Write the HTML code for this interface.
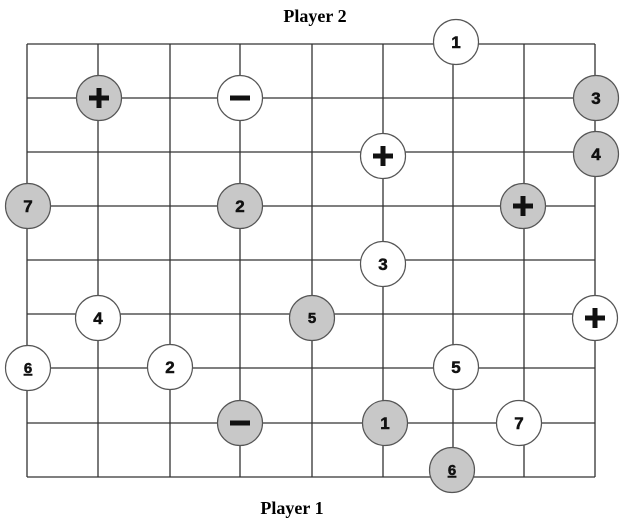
<!DOCTYPE html>
<html><head><style>body{margin:0;background:#fff}</style></head><body>
<svg width="626" height="522" xmlns="http://www.w3.org/2000/svg" font-family="Liberation Sans, sans-serif">
<rect width="626" height="522" fill="#fff"/>
<g stroke="#333" stroke-width="1.3">
<line x1="27" y1="44" x2="27" y2="477"/><line x1="98" y1="44" x2="98" y2="477"/><line x1="170" y1="44" x2="170" y2="477"/><line x1="240" y1="44" x2="240" y2="477"/><line x1="312" y1="44" x2="312" y2="477"/><line x1="383" y1="44" x2="383" y2="477"/><line x1="453" y1="44" x2="453" y2="477"/><line x1="524" y1="44" x2="524" y2="477"/><line x1="595" y1="44" x2="595" y2="477"/>
<line x1="27" y1="44" x2="595" y2="44"/><line x1="27" y1="98" x2="595" y2="98"/><line x1="27" y1="152" x2="595" y2="152"/><line x1="27" y1="206" x2="595" y2="206"/><line x1="27" y1="260" x2="595" y2="260"/><line x1="27" y1="314" x2="595" y2="314"/><line x1="27" y1="368" x2="595" y2="368"/><line x1="27" y1="423" x2="595" y2="423"/><line x1="27" y1="477" x2="595" y2="477"/>
</g>
<g font-family="Liberation Serif, serif" font-weight="bold" font-size="18" text-anchor="middle">
<text x="315" y="22">Player  2</text><text x="292" y="514">Player  1</text></g>
<g stroke="#555" stroke-width="1.2">
<circle cx="99" cy="98" r="22.5" fill="#c8c8c8"/><circle cx="240" cy="98" r="22.5" fill="#fff"/>
<circle cx="456" cy="42" r="22.5" fill="#fff"/><circle cx="596" cy="98" r="22.5" fill="#c8c8c8"/>
<circle cx="596" cy="154" r="22.5" fill="#c8c8c8"/><circle cx="383" cy="156" r="22.5" fill="#fff"/>
<circle cx="28" cy="206" r="22.5" fill="#c8c8c8"/><circle cx="240" cy="206" r="22.5" fill="#c8c8c8"/>
<circle cx="523" cy="206" r="22.5" fill="#c8c8c8"/><circle cx="383" cy="264" r="22.5" fill="#fff"/>
<circle cx="98" cy="318" r="22.5" fill="#fff"/><circle cx="312" cy="318" r="22.5" fill="#c8c8c8"/>
<circle cx="595" cy="318" r="22.5" fill="#fff"/><circle cx="28" cy="368" r="22.5" fill="#fff"/>
<circle cx="170" cy="367" r="22.5" fill="#fff"/><circle cx="456" cy="367" r="22.5" fill="#fff"/>
<circle cx="240" cy="423" r="22.5" fill="#c8c8c8"/><circle cx="385" cy="423" r="22.5" fill="#c8c8c8"/>
<circle cx="519" cy="423" r="22.5" fill="#fff"/><circle cx="452" cy="470" r="22.5" fill="#c8c8c8"/>
</g>
<g fill="#111">
<rect x="89" y="95.5" width="20" height="5"/><rect x="96.5" y="88" width="5" height="20"/>
<rect x="230" y="95.5" width="20" height="5"/>
<rect x="373" y="153.5" width="20" height="5"/><rect x="380.5" y="146" width="5" height="20"/>
<rect x="513" y="203.5" width="20" height="5"/><rect x="520.5" y="196" width="5" height="20"/>
<rect x="585" y="315.5" width="20" height="5"/><rect x="592.5" y="308" width="5" height="20"/>
<rect x="230" y="420.5" width="20" height="5"/>
</g>
<g font-weight="bold" font-size="17" text-anchor="middle" fill="#111" stroke="#111" stroke-width="0.5">
<text x="456" y="48">1</text><text x="596" y="104">3</text><text x="596" y="160">4</text>
<text x="28" y="212">7</text><text x="240" y="212">2</text><text x="383" y="270">3</text>
<text x="98" y="324">4</text><text x="312" y="323" font-size="15">5</text>
<text x="28" y="373" font-size="15" text-decoration="underline">6</text>
<text x="170" y="373">2</text><text x="456" y="373">5</text>
<text x="385" y="429">1</text><text x="519" y="429">7</text>
<text x="452" y="475" font-size="15" text-decoration="underline">6</text>
</g>
</svg>
</body></html>
